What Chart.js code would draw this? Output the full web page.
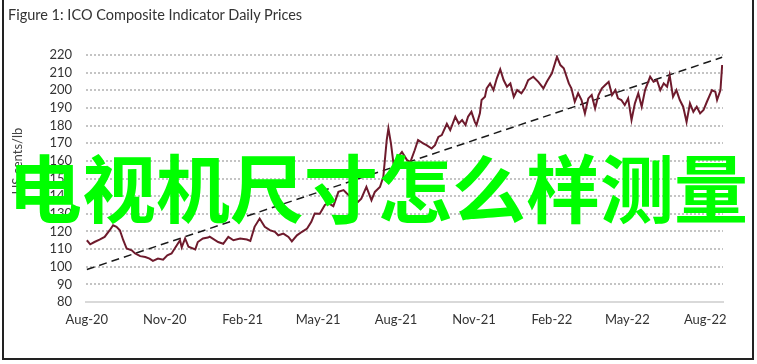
<!DOCTYPE html>
<html>
<head>
<meta charset="utf-8">
<script src="https://cdn.jsdelivr.net/npm/chart.js@4"></script>
<style>
  html, body { margin: 0; padding: 0; background: #fff; }
  #wrap { position: relative; width: 757px; height: 364px; overflow: hidden; }
  #frame { position: absolute; left: 2px; top: -4px; width: 748px; height: 360px; border: 2px solid #222; }
  #title { position: absolute; left: 8px; top: 6px; font: 14.5px Lato, sans-serif; color: #333; }
  #ytitle { position: absolute; left: 17px; top: 161px; font: 13px Lato, sans-serif; color: #444;
            transform: translate(-50%, -50%) rotate(-90deg); white-space: nowrap; }
  #mark { position: absolute; left: 8px; top: 148px; font: bold 74px "Noto Sans CJK SC", sans-serif;
          color: #00ff00; line-height: 1; white-space: nowrap; }
</style>
</head>
<body>
<div id="wrap">
  <canvas id="myChart" width="757" height="364"></canvas>
  <div id="frame"></div>
  <div id="title">Figure 1: ICO Composite Indicator Daily Prices</div>
  <div id="ytitle">US cents/lb</div>
  <div id="mark">电视机尺寸怎么样测量</div>
</div>
<script>
// days since 1 Aug 2020
const dayOffset = [0,4,9,15,21,27,31,35,39,43,47,53,57,63,69,74,78,84,90,95,100,106,110,112,116,120,128,131,137,143,
  145,155,161,167,173,181,189,193,198,204,210,216,222,226,232,238,242,248,254,260,265,269,275,281,285,291,297,303,307,313,
  320,324,330,336,340,346,350,354,356,359,362,367,372,378,382,387,391,397,401,407,411,415,419,425,429,435,439,443,447,450,
  454,458,460,464,466,470,472,476,480,484,488,492,496,500,504,508,513,517,521,527,533,539,543,549,555,559,563,569,572,576,
  580,584,588,592,596,600,604,608,612,616,620,624,627,631,635,639,643,647,651,655,659,665,669,673,677,681,685,688,692,696,
  700,704,708,712,716,720,724,728,732,738,742,744,748,750];
// ICO composite indicator, US cents/lb
const icoPrice = [115,112.7,114,115.4,116.9,120.7,123.5,122.6,120.7,115,110.3,109.3,107.5,106,105.5,104.6,103.3,104.6,104,106.5,
  107.5,112,115,111,116,111.3,109.8,114,116,116.5,117,114,113,116.9,115,116,115.4,114.6,122.6,127.3,
  122.6,120.7,119.8,117.8,118.8,116.9,114.4,117.8,119.8,121.6,125.4,130.2,130,135,136,134.3,142.4,143.4,141.5,139,
  136.7,138.6,145.2,137.7,142.4,145.2,151,171.8,178.4,169.9,158.5,162,165,160.4,159.4,166,171.8,169.9,168.9,167,
  168.9,173.6,174.6,181,177.4,185,181.2,183.1,180.3,185,187.8,182.1,180.3,186.9,194.5,196.3,201.1,203.9,200.1,206.8,
  211.9,205.8,202,203.9,196.3,200.1,198.3,201.1,205.8,207.7,204.8,201.1,204.8,209.6,219,214.3,212.5,203.9,201.1,193.5,
  198.3,194.5,186.9,195.4,197.3,189.7,197.3,201.1,203,204.8,197.3,200.1,195.4,194.5,191.6,195.4,183.1,192.6,198.3,190.7,
  200.1,207.7,204.8,205.8,200.1,203.9,202,208.6,196.3,200.1,194.5,190.7,182.1,192.6,187.8,190.7,186.9,188.8,193.5,200.1,
  199.1,194.5,200.1,214.3];
const trendDays = [0, 750];
const trendValues = [98.4, 218.7];
const tickDays = [0, 92, 184, 273, 365, 457, 549, 638, 730];
const tickLabels = ['Aug-20','Nov-20','Feb-21','May-21','Aug-21','Nov-21','Feb-22','May-22','Aug-22'];

// dotted horizontal gridlines, placed by the y scale
const dottedGrid = {
  id: 'dottedGrid',
  beforeDatasetsDraw(chart) {
    const { ctx, chartArea, scales } = chart;
    const y = scales.y;
    ctx.save();
    ctx.strokeStyle = '#c4c4c4';
    ctx.lineWidth = 2;
    ctx.setLineDash([2, 2]);
    y.ticks.forEach(t => {
      if (t.value === 80) return;
      const py = Math.round(y.getPixelForValue(t.value));
      ctx.beginPath();
      ctx.moveTo(chartArea.left, py);
      ctx.lineTo(chartArea.right, py);
      ctx.stroke();
    });
    ctx.restore();
  }
};

const ctx = document.getElementById('myChart').getContext('2d');
new Chart(ctx, {
  type: 'line',
  data: {
    datasets: [{
      data: dayOffset.map((d, i) => ({ x: d, y: icoPrice[i] })),
      borderColor: '#6e1a2c',
      borderWidth: 2,
      pointRadius: 0,
      tension: 0,
      fill: false
    }, {
      data: trendDays.map((d, i) => ({ x: d, y: trendValues[i] })),
      borderColor: '#1a1a1a',
      borderWidth: 1.5,
      borderDash: [8, 5],
      pointRadius: 0,
      fill: false
    }]
  },
  options: {
    responsive: false,
    animation: false,
    devicePixelRatio: 1,
    layout: { padding: { top: 55, right: 34, left: 0, bottom: 0 } },
    plugins: { legend: { display: false }, tooltip: { enabled: false } },
    scales: {
      x: {
        type: 'linear',
        min: -1, max: 751,
        afterBuildTicks: s => { s.ticks = tickDays.map(v => ({ value: v })); },
        afterFit: s => { s.height = 62; },
        ticks: {
          padding: 10,
          autoSkip: false,
          maxRotation: 0,
          color: '#333',
          font: { family: 'Lato', size: 13 },
          callback: v => tickLabels[tickDays.indexOf(v)]
        },
        grid: { display: false, drawTicks: false },
        border: { display: true, color: '#d9d9d9', width: 2 }
      },
      y: {
        min: 80, max: 220,
        afterFit: s => { s.width = 86; },
        ticks: {
          stepSize: 10,
          autoSkip: false,
          padding: 14,
          color: '#333',
          font: { family: 'Lato', size: 13 }
        },
        grid: { display: false, drawTicks: false },
        border: { display: false }
      }
    }
  },
  plugins: [dottedGrid]
});
</script>
</body>
</html>
